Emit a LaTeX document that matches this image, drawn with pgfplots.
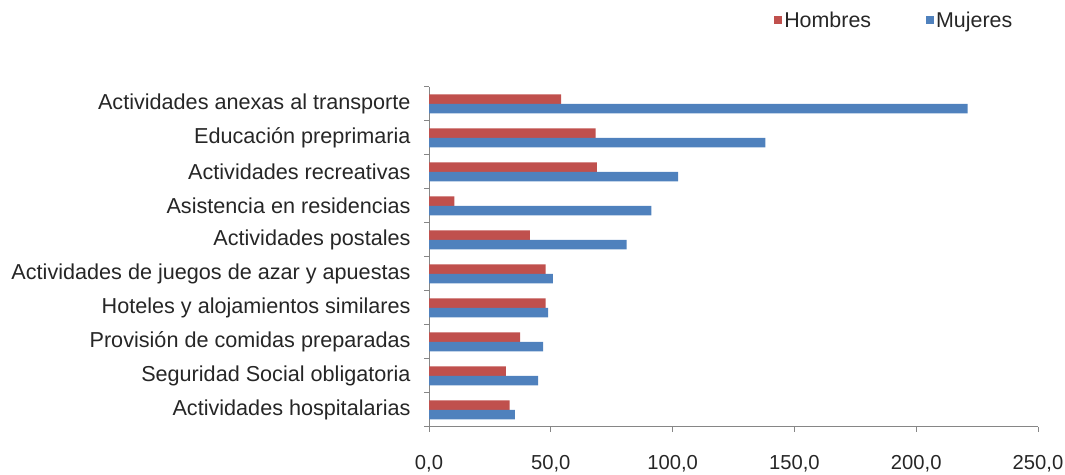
\documentclass[border=0pt]{standalone}
\usepackage{fontspec}
\setmainfont{Liberation Sans}
\usepackage{pgfplots}
\pgfplotsset{compat=1.18}
\definecolor{hombres}{HTML}{C0504D}
\definecolor{mujeres}{HTML}{4F81BD}
\definecolor{axisgray}{HTML}{868686}

\begin{document}
\begin{tikzpicture}[x=1bp,y=1bp]
\useasboundingbox (0,0) rectangle (1065,475);
\begin{axis}[
  at={(429bp,48bp)}, anchor=south west,
  scale only axis, width=609bp, height=340bp,
  xbar=0pt, bar width=9.5bp,
  xmin=0, xmax=250,
  ymin=-0.5, ymax=9.5,
  axis x line*=bottom, axis y line*=left,
  axis line style={axisgray, line width=1bp},
  xtick={0,50,...,250},
  xticklabels={{0,0},{50,0},{100,0},{150,0},{200,0},{250,0}},
  minor xtick={0,50,...,250},
  ytick={0,...,9},
  yticklabels={
    Actividades hospitalarias,
    Seguridad Social obligatoria,
    Provisión de comidas preparadas,
    Hoteles y alojamientos similares,
    Actividades de juegos de azar y apuestas,
    Actividades postales,
    Asistencia en residencias,
    Actividades recreativas,
    Educación preprimaria,
    Actividades anexas al transporte},
  minor ytick={-0.5,0.5,...,9.5},
  major tick length=0pt, minor tick length=5bp,
  tick align=outside,
  tick style={axisgray, line width=1bp},
  yticklabel style={font=\fontsize{21.7}{21}\selectfont, text=black!85, xshift=-15bp},
  xticklabel style={font=\fontsize{20.3}{20}\selectfont, text=black!85, yshift=-25bp},
  legend columns=2,
  legend style={at={(0.764,1.197)}, anchor=center, draw=none, fill=none,
    font=\fontsize{21.5}{21}\selectfont, text=black!85,
    /tikz/every even column/.append style={column sep=53bp}},
  legend image code/.code={\fill[#1] (0bp,-4bp) rectangle (8bp,4bp);},
]
\addplot[fill=hombres, draw=none, bar shift=4.75bp] coordinates {
  (33.1,0) (31.6,1) (37.4,2) (47.9,3) (47.9,4)
  (41.4,5) (10.4,6) (68.9,7) (68.4,8) (54.2,9)};
\addplot[fill=mujeres, draw=none, bar shift=-4.75bp] coordinates {
  (35.3,0) (44.8,1) (46.8,2) (48.9,3) (50.9,4)
  (81.1,5) (91.3,6) (102.3,7) (138.1,8) (221.1,9)};
\legend{Hombres, Mujeres}
\end{axis}
\end{tikzpicture}
\end{document}
